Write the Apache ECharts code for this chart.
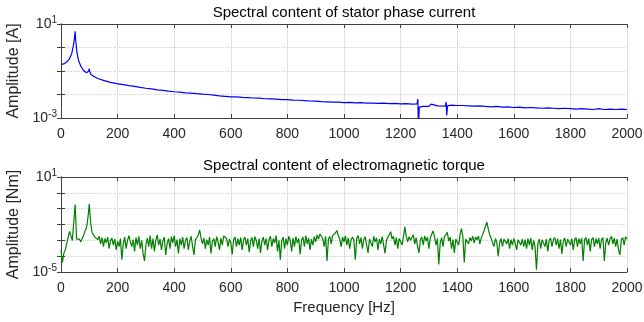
<!DOCTYPE html>
<html>
<head>
<meta charset="utf-8">
<script src="https://cdn.jsdelivr.net/npm/echarts@6/dist/echarts.min.js"></script>
<style>
  html, body { margin: 0; padding: 0; background: #fff; }
  #chart { width: 644px; height: 322px; }
</style>
</head>
<body>
<div id="chart"></div>
<script>
// frequency ticks (Hz)
const freqMin = 0;
const freqMax = 2000;
const freqTick = 200;

// stator phase current spectrum: [Hz, A]
const currentPoints = [
  [0, 0.19], [10, 0.2], [20, 0.24], [30, 0.33], [38, 0.56], [44, 1.26], [48, 2.8], [50, 4.9],
  [52, 2.0], [56, 0.63], [62, 0.28], [70, 0.16], [80, 0.105], [90, 0.085], [96, 0.078], [98, 0.1],
  [100, 0.126], [102, 0.09], [106, 0.071], [115, 0.06], [130, 0.048], [150, 0.04], [175, 0.033],
  [197, 0.029], [200, 0.034], [203, 0.028],
  [220, 0.0262], [240, 0.0238], [260, 0.0221], [280, 0.0200], [300, 0.0184], [320, 0.0172],
  [340, 0.0158], [360, 0.0150], [380, 0.0138], [400, 0.0131], [420, 0.0127], [440, 0.0118],
  [460, 0.0115], [480, 0.0108], [500, 0.0103], [520, 0.0100], [540, 0.0094], [560, 0.0088],
  [580, 0.0084], [600, 0.0080], [620, 0.0079], [640, 0.0075], [660, 0.0073], [680, 0.0071],
  [700, 0.0070], [720, 0.0066], [740, 0.0065], [760, 0.0063], [780, 0.0060], [800, 0.0061],
  [820, 0.0058], [840, 0.0057], [860, 0.0055], [880, 0.0053], [900, 0.0052], [920, 0.0050],
  [940, 0.0049], [960, 0.0047], [980, 0.0047], [1000, 0.0045], [1020, 0.0046], [1040, 0.0044],
  [1060, 0.0045], [1080, 0.0043], [1100, 0.0043], [1120, 0.0042], [1140, 0.0043], [1160, 0.0041],
  [1180, 0.0042], [1200, 0.0040], [1220, 0.0041], [1240, 0.0039], [1258, 0.0040], [1261, 0.0063],
  [1263, 0.0003], [1266, 0.0029], [1280, 0.0031], [1300, 0.0031], [1308, 0.0039], [1312, 0.0033],
  [1330, 0.0033], [1358, 0.0032], [1361, 0.0048], [1363, 0.0013], [1366, 0.0033], [1380, 0.0035],
  [1400, 0.0034], [1420, 0.0034], [1440, 0.0033], [1460, 0.0032], [1480, 0.0033], [1500, 0.0031],
  [1520, 0.0030], [1540, 0.0031], [1560, 0.0029], [1580, 0.0030], [1600, 0.0028], [1620, 0.0029],
  [1640, 0.0027], [1660, 0.0028], [1680, 0.0027], [1700, 0.0026], [1720, 0.0027], [1740, 0.0026],
  [1760, 0.0025], [1780, 0.0026], [1800, 0.0025], [1820, 0.0024], [1840, 0.0025], [1860, 0.0024],
  [1880, 0.0023], [1900, 0.0025], [1920, 0.0023], [1940, 0.0024], [1960, 0.0023], [1980, 0.0024],
  [2000, 0.0023]
];

// electromagnetic torque spectrum, one value every 5 Hz from 0 Hz (Nm)
const torqueStep = 5;
const torqueAmp = [
  // 0
  2.3e-4, 4e-5, 1.5e-4, 2.5e-4, 3e-4, 1.5e-3, 3.7e-3, 2e-3, 1e-3, 1.1e-3, 0.18, 1.2e-3, 1.5e-3, 1.2e-3, 8e-4, 1.3e-3, 2e-3, 4e-3, 6e-3, 0.025,
  // 100
  0.2, 0.012, 3e-3, 2.2e-3, 1.6e-3, 2e-3, 1.1e-3, 1.8e-3, 6e-4, 1.5e-3, 4e-4, 1.3e-3, 7e-4, 1.6e-3, 3e-4, 1e-3, 1.4e-3, 5e-4, 1.2e-3, 2.5e-4,
  // 200
  9e-4, 4e-4, 1.3e-3, 6e-5, 6e-4, 1.6e-3, 3e-4, 1e-3, 2e-3, 8e-4, 4e-4, 1.1e-3, 2e-4, 1.5e-3, 5e-4, 1.8e-3, 3e-4, 1e-3, 1.5e-4, 5e-5,
  // 300
  5e-4, 1.4e-3, 4e-4, 2e-3, 3e-4, 1.3e-3, 2e-4, 1e-3, 2.2e-3, 5e-4, 1.2e-3, 2.5e-4, 9e-4, 1.6e-3, 1.2e-4, 6e-4, 1.3e-3, 3e-4, 1.7e-3, 7e-4,
  // 400
  2e-3, 4e-4, 1.1e-3, 1.5e-4, 1.3e-3, 5e-4, 1.6e-3, 3e-4, 1e-3, 1.5e-3, 2.5e-4, 9e-4, 1.8e-3, 4e-4, 1.2e-4, 1.1e-3, 1.5e-3, 2.2e-3, 4.5e-3, 1.4e-3,
  // 500
  6e-4, 1.4e-3, 3e-4, 1.1e-3, 5e-4, 1.6e-3, 1.5e-4, 9e-4, 1.3e-3, 4e-4, 1.7e-3, 8e-4, 2.5e-4, 1.4e-3, 5e-4, 1.9e-3, 2.4e-3, 1.3e-3, 4e-4, 1.2e-3,
  // 600
  7e-4, 1.3e-4, 1.1e-3, 1.6e-3, 4e-4, 1.3e-3, 5e-4, 1.5e-3, 2.5e-4, 1e-3, 1.6e-3, 5e-4, 1.3e-3, 1.8e-4, 9e-4, 1.5e-3, 4e-4, 1.7e-3, 1e-3, 3e-4,
  // 700
  1.3e-3, 1.6e-4, 9e-4, 1.6e-3, 5e-4, 1.3e-3, 2.5e-4, 1.1e-3, 1.8e-3, 4e-4, 1.3e-3, 7e-4, 2e-3, 2e-4, 1e-3, 6e-5, 9e-4, 1.6e-3, 3e-4, 1.3e-3,
  // 800
  5e-4, 1.8e-3, 1e-3, 2e-4, 1.4e-3, 4e-4, 1.7e-3, 7e-4, 1.3e-3, 1.3e-4, 1e-3, 1.6e-3, 4e-4, 2e-3, 6e-4, 1.4e-3, 2.5e-4, 1.2e-3, 5e-4, 1.7e-3,
  // 900
  8e-4, 2.2e-3, 1.2e-3, 2.5e-3, 3.2e-3, 1.3e-3, 4e-4, 1.8e-3, 5e-5, 1.2e-3, 1.8e-3, 6e-4, 2e-3, 2.4e-3, 3e-3, 4.2e-3, 2e-3, 1.2e-3, 4e-4, 1.6e-3,
  // 1000
  8e-4, 1.9e-3, 5e-4, 1.4e-3, 3e-4, 1.1e-3, 1.6e-3, 1e-3, 6e-5, 1.3e-3, 2e-3, 6e-4, 1.5e-3, 3e-4, 1.1e-3, 1.7e-3, 5e-4, 1.6e-4, 1.2e-3, 1.6e-3,
  // 1100
  4e-4, 1.8e-3, 8e-4, 1.4e-3, 2.5e-4, 1.2e-3, 6e-4, 1.7e-3, 1.3e-3, 1.5e-4, 1e-3, 1.6e-3, 2.3e-3, 3.5e-3, 1.2e-3, 1.8e-3, 5e-4, 1.5e-3, 3e-4, 1.3e-3,
  // 1200
  1.7e-3, 5e-4, 1.6e-3, 7e-3, 1.8e-3, 8e-4, 1.7e-3, 1e-3, 1.5e-3, 2.2e-3, 6e-4, 1.5e-3, 4e-4, 1.6e-4, 1.1e-3, 1.6e-3, 5e-4, 1.9e-3, 9e-4, 1.6e-3,
  // 1300
  3e-4, 1.4e-3, 2.4e-3, 4e-3, 1.6e-3, 5e-4, 1.3e-3, 3e-5, 7e-4, 1.5e-3, 4e-4, 1.7e-3, 2.3e-3, 3.2e-3, 9e-4, 1.6e-3, 3e-4, 1.1e-3, 1.6e-4, 1.2e-3,
  // 1400
  1.6e-3, 5e-4, 2.3e-3, 5.5e-3, 1.7e-3, 4e-5, 1.2e-3, 1.6e-3, 6e-4, 1.5e-3, 9e-4, 1.8e-3, 7e-4, 1.6e-3, 1.1e-3, 1.9e-3, 6e-4, 1.4e-3, 2.3e-3, 4e-3,
  // 1500
  8e-3, 1.4e-2, 5e-3, 2.2e-3, 1.3e-3, 1.7e-3, 4e-4, 1.3e-3, 7e-4, 1e-4, 7e-4, 1.3e-3, 4e-4, 1.2e-3, 1.5e-3, 6e-4, 1.3e-3, 3e-4, 1.1e-3, 5e-4,
  // 1600
  1.3e-3, 6e-4, 2.5e-4, 1.1e-3, 1.4e-3, 5e-4, 1.2e-3, 4e-4, 1.1e-3, 3e-4, 1.3e-3, 5e-4, 1.4e-3, 2.5e-4, 1e-3, 4e-4, 1.4e-5, 6e-4, 1.2e-3, 3e-4,
  // 1700
  1.1e-3, 1.4e-3, 4e-4, 1.2e-3, 2e-4, 1e-3, 1.4e-3, 4e-4, 1.1e-3, 1.5e-3, 5e-4, 1.3e-3, 3e-4, 1.1e-3, 1.4e-4, 9e-4, 1.4e-3, 4e-4, 1.2e-3, 1.6e-3,
  // 1800
  5e-4, 1.3e-3, 2.5e-4, 1.1e-3, 1.5e-3, 4e-4, 1.3e-3, 6e-4, 1.4e-3, 5e-5, 1.1e-3, 1.5e-3, 5e-4, 1.3e-3, 2e-4, 1.1e-3, 1.5e-3, 4e-4, 1.3e-3, 6e-4,
  // 1900
  1.4e-3, 3e-4, 1.1e-3, 1.5e-3, 5e-5, 7e-4, 1.4e-3, 5e-4, 1.2e-3, 1.8e-3, 6e-4, 1.4e-3, 4e-4, 1.2e-3, 2.5e-4, 1.2e-4, 1.1e-3, 1.5e-3, 5e-4, 1.7e-3,
  // 2000
  1.2e-3
];

// y ranges (decades)
const currentYMin = 1e-3, currentYMax = 10;
const torqueYMin = 1e-5, torqueYMax = 10;

const torquePoints = torqueAmp.map((v, i) => [i * torqueStep, v]);

const FONT = 'Liberation Sans, Arial, sans-serif';
const AXIS_COLOR = '#404040';
const TEXT_COLOR = '#262626';

function decadeLabel(min, max) {
  const lo = Math.round(Math.log10(min));
  const hi = Math.round(Math.log10(max));
  return function (v) {
    const e = Math.round(Math.log10(v));
    if (e !== lo && e !== hi) return '';
    return '{b|10}{s|' + e + '}';
  };
}

function xAxes(gridIndex, title, withName) {
  return [
    {
      type: 'value', gridIndex: gridIndex, position: 'bottom',
      min: freqMin, max: freqMax, interval: freqTick,
      name: withName ? 'Frequency [Hz]' : '',
      nameLocation: 'middle', nameGap: 28,
      nameTextStyle: { fontFamily: FONT, fontSize: 15, color: TEXT_COLOR },
      axisLine: { lineStyle: { color: AXIS_COLOR, width: 1 } },
      axisTick: { inside: true, length: 4, lineStyle: { color: AXIS_COLOR } },
      axisLabel: { fontFamily: FONT, fontSize: 14, color: TEXT_COLOR, margin: 9, formatter: v => String(v) },
      splitLine: { show: true, lineStyle: { color: '#e0e0e0', width: 1 } }
    },
    {
      type: 'value', gridIndex: gridIndex, position: 'top',
      min: freqMin, max: freqMax, interval: freqTick,
      name: title, nameLocation: 'middle', nameGap: 4,
      nameTextStyle: { fontFamily: FONT, fontSize: 15, color: '#000' },
      axisLine: { lineStyle: { color: AXIS_COLOR, width: 1 } },
      axisTick: { inside: true, length: 4, lineStyle: { color: AXIS_COLOR } },
      axisLabel: { show: false },
      splitLine: { show: false }
    }
  ];
}

function yAxes(gridIndex, name, min, max) {
  return [
    {
      type: 'log', logBase: 10, gridIndex: gridIndex, position: 'left',
      min: min, max: max,
      name: name, nameLocation: 'middle', nameGap: 31,
      nameTextStyle: { fontFamily: FONT, fontSize: 16, color: TEXT_COLOR },
      axisLine: { show: true, lineStyle: { color: AXIS_COLOR, width: 1 } },
      axisTick: { show: true, inside: true, length: 4, lineStyle: { color: AXIS_COLOR } },
      axisLabel: {
        margin: 4,
        formatter: decadeLabel(min, max),
        rich: {
          b: { fontFamily: FONT, fontSize: 14, color: TEXT_COLOR },
          s: { fontFamily: FONT, fontSize: 10, color: TEXT_COLOR, padding: [0, 0, 8, 0] }
        }
      },
      splitLine: { show: true, lineStyle: { color: '#cfcfcf', type: 'dotted', width: 1 } }
    },
    {
      type: 'log', logBase: 10, gridIndex: gridIndex, position: 'right',
      min: min, max: max,
      axisLine: { show: true, lineStyle: { color: AXIS_COLOR, width: 1 } },
      axisTick: { show: true, inside: true, length: 4, lineStyle: { color: AXIS_COLOR } },
      axisLabel: { show: false },
      splitLine: { show: false }
    }
  ];
}

const chart = echarts.init(document.getElementById('chart'), null, { renderer: 'canvas' });

chart.setOption({
  animation: false,
  backgroundColor: '#fff',
  grid: [
    { left: 61, right: 17, top: 24, height: 94, outerBoundsMode: 'none', containLabel: false },
    { left: 61, right: 17, top: 177, height: 95, outerBoundsMode: 'none', containLabel: false }
  ],
  xAxis: [
    ...xAxes(0, 'Spectral content of stator phase current', false),
    ...xAxes(1, 'Spectral content of electromagnetic torque', true)
  ],
  yAxis: [
    ...yAxes(0, 'Amplitude [A]', currentYMin, currentYMax),
    ...yAxes(1, 'Amplitude [Nm]', torqueYMin, torqueYMax)
  ],
  series: [
    {
      name: 'Stator phase current',
      type: 'line', xAxisIndex: 0, yAxisIndex: 0,
      data: currentPoints, showSymbol: false, clip: true,
      lineStyle: { color: '#0000ff', width: 1.2 }
    },
    {
      name: 'Electromagnetic torque',
      type: 'line', xAxisIndex: 2, yAxisIndex: 2,
      data: torquePoints, showSymbol: false, clip: true,
      lineStyle: { color: '#008000', width: 1.2 }
    }
  ]
});
</script>
</body>
</html>
